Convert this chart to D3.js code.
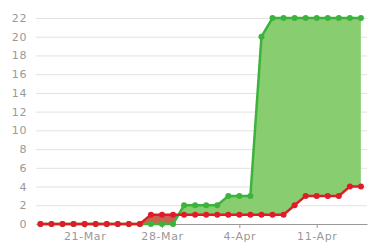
<!DOCTYPE html>
<html>
<head>
<meta charset="utf-8">
<script src="https://cdn.jsdelivr.net/npm/d3@7"></script>
<style>
  body { margin: 0; background: #fff; }
  text { font-family: "DejaVu Sans", sans-serif; letter-spacing: 0.6px; }
</style>
</head>
<body>
<script>
// Data: one point per day, 17-Mar to 15-Apr
let startDate = '2024-03-17';
let greenValues = [0,0,0,0,0,0,0,0,0,0,0,0,0, 2,2,2,2, 3,3,3, 20, 22,22,22,22,22,22,22,22,22];
let redValues   = [0,0,0,0,0,0,0,0,0,0, 1,1,1,1,1,1,1,1,1,1,1,1,1, 2, 3,3,3,3, 4,4];
let yTicks = [0,2,4,6,8,10,12,14,16,18,20,22];
let xTickDates = ['2024-03-21','2024-03-28','2024-04-04','2024-04-11'];

let parse = d3.timeParse('%Y-%m-%d');
let day0 = parse(startDate);
let data = greenValues.map((g, i) => ({
  date: d3.timeDay.offset(day0, i),
  green: g,
  red: redValues[i]
}));

let width = 380, height = 250;
let margin = { top: 18, bottom: 26, left: 36, right: 13 };

let svg = d3.select('body')
  .append('svg')
  .attr('width', width)
  .attr('height', height);

let first = data[0].date, last = data[data.length - 1].date;
let xScale = d3.scaleTime()
  .domain([new Date(+first - 0.4 * 864e5), new Date(+last + 0.55 * 864e5)])
  .range([margin.left, width - margin.right]);

let yScale = d3.scaleLinear()
  .domain([0, 22])
  .range([height - margin.bottom, margin.top]);

// gridlines + y labels
let yAxis = svg.append('g')
  .attr('transform', `translate(${margin.left},0)`)
  .call(d3.axisLeft(yScale).tickValues(yTicks).tickSize(-(width - margin.left - margin.right)).tickPadding(9));
yAxis.select('.domain').remove();
yAxis.selectAll('line').attr('stroke', '#e2e2e2');
yAxis.selectAll('text').attr('fill', '#999').style('font-size', '11px');

// difference areas
let plotH = height - margin.bottom;
svg.append('clipPath').attr('id', 'clip-above')
  .append('path').datum(data)
  .attr('d', d3.area().x(d => xScale(d.date)).y0(0).y1(d => yScale(d.red)));
svg.append('clipPath').attr('id', 'clip-below')
  .append('path').datum(data)
  .attr('d', d3.area().x(d => xScale(d.date)).y0(plotH).y1(d => yScale(d.red)));

let diffArea = d3.area()
  .x(d => xScale(d.date))
  .y0(d => yScale(d.red))
  .y1(d => yScale(d.green));

svg.append('path').datum(data)
  .attr('clip-path', 'url(#clip-above)')
  .attr('d', diffArea)
  .attr('fill', '#88cd6f');
svg.append('path').datum(data)
  .attr('clip-path', 'url(#clip-below)')
  .attr('d', diffArea)
  .attr('fill', '#c8644e');

// x axis
let xAxis = svg.append('g')
  .attr('transform', `translate(0,${plotH})`)
  .call(d3.axisBottom(xScale).tickValues(xTickDates.map(parse)).tickFormat(d3.timeFormat('%-d-%b')).tickSize(4).tickSizeOuter(0).tickPadding(4));
xAxis.select('.domain').attr('stroke', '#999');
xAxis.selectAll('line').attr('stroke', '#999');
xAxis.selectAll('text').attr('fill', '#999').style('font-size', '11px');

// lines and dots
function drawSeries(key, color) {
  svg.append('path').datum(data)
    .attr('fill', 'none')
    .attr('stroke', color)
    .attr('stroke-width', 2.5)
    .attr('d', d3.line().x(d => xScale(d.date)).y(d => yScale(d[key])));
  svg.append('g').selectAll('circle')
    .data(data)
    .enter()
    .append('circle')
    .attr('cx', d => xScale(d.date))
    .attr('cy', d => yScale(d[key]))
    .attr('r', 3)
    .attr('fill', color);
}
drawSeries('green', '#3cb43c');
drawSeries('red', '#e01c28');
</script>
</body>
</html>
